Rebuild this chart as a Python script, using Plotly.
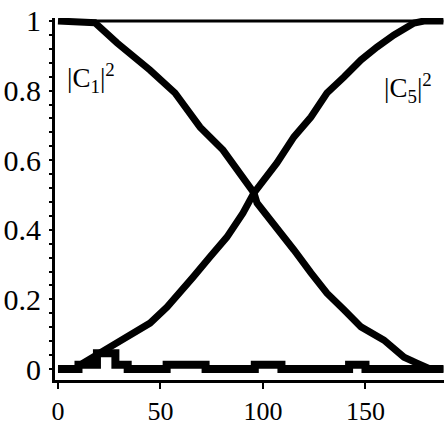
import plotly.graph_objects as go

# |C1|^2
t_c1 = [0, 18, 28.8, 44.9, 57.1, 69.3, 80.5, 90.2, 95.6, 97.1, 106.8, 115.1,
        123.4, 131.2, 139.5, 147.8, 159.0, 168.8, 175.1, 181.5, 188]
c1 = [1.0, 0.995, 0.937, 0.859, 0.793, 0.695, 0.629, 0.552, 0.506, 0.477, 0.408,
      0.342, 0.276, 0.218, 0.170, 0.121, 0.083, 0.034, 0.017, 0.0, 0.0]

# |C5|^2
t_c5 = [0, 8.3, 12.2, 20.5, 30.2, 36.6, 44.9, 53.2, 61.0, 65.9, 74.1, 82.4, 90.2,
        95.6, 106.8, 115.1, 123.4, 131.2, 139.5, 147.8, 155.6, 163.9, 173.7, 178.5, 188]
c5 = [0.0, 0.0, 0.017, 0.046, 0.075, 0.103, 0.132, 0.178, 0.227, 0.264, 0.322,
      0.379, 0.448, 0.506, 0.592, 0.667, 0.724, 0.793, 0.839, 0.888, 0.925,
      0.960, 0.994, 1.0, 1.0]

# the other populations, close to zero
t_low = [0, 10, 19, 28, 34, 53, 72, 96, 109, 142, 150, 188]
low = [0, 0.012, 0.045, 0.012, 0, 0.012, 0, 0.012, 0, 0.012, 0, 0]

# total probability
t_sum = [0, 188]
total = [1, 1]

x_ticks = [0, 50, 100, 150]
y_ticks = [0, 0.2, 0.4, 0.6, 0.8, 1]
y_labels = ['0', '0.2', '0.4', '0.6', '0.8', '1']

fig = go.Figure()
fig.add_trace(go.Scatter(x=t_sum, y=total, mode='lines',
                         line=dict(color='black', width=3)))
fig.add_trace(go.Scatter(x=t_low, y=low, mode='lines', line_shape='hv',
                         line=dict(color='black', width=8)))
fig.add_trace(go.Scatter(x=t_c1, y=c1, mode='lines',
                         line=dict(color='black', width=7)))
fig.add_trace(go.Scatter(x=t_c5, y=c5, mode='lines',
                         line=dict(color='black', width=7)))

fig.add_annotation(x=3.4, y=0.836, xref='x', yref='y', showarrow=False,
                   xanchor='left', text='|C<sub>1</sub>|<sup>2</sup>',
                   font=dict(family='Liberation Serif', size=27, color='black'))
fig.add_annotation(x=183.4, y=0.807, xref='x', yref='y', showarrow=False,
                   xanchor='right', text='|C<sub>5</sub>|<sup>2</sup>',
                   font=dict(family='Liberation Serif', size=27, color='black'))

fig.update_layout(
    width=444, height=426,
    margin=dict(l=55, r=0, t=18, b=46),
    plot_bgcolor='white', paper_bgcolor='white',
    showlegend=False,
    font=dict(family='Liberation Serif', size=30, color='black'),
)
fig.update_xaxes(
    range=[-1.46, 188.3], tickvals=x_ticks,
    showgrid=False, zeroline=False,
    showline=True, linecolor='black', linewidth=3,
    ticks='outside', ticklen=6, tickwidth=2, tickcolor='black',
    ticklabelstandoff=0,
    tickfont=dict(size=26),
)
fig.update_yaxes(
    range=[-0.0316, 1.0086], tickvals=y_ticks, ticktext=y_labels,
    showgrid=False, zeroline=False,
    showline=True, linecolor='black', linewidth=3,
    ticks='outside', ticklen=3, tickwidth=2, tickcolor='black',
    ticklabelstandoff=2,
    minor=dict(dtick=0.04, ticks='outside', ticklen=3, tickwidth=2, tickcolor='black'),
)

# drop the browser's default page margin so the figure sits at the corner
fig.write_html("out.html", config={'displayModeBar': False},
               post_script="document.body.style.margin='0';")
